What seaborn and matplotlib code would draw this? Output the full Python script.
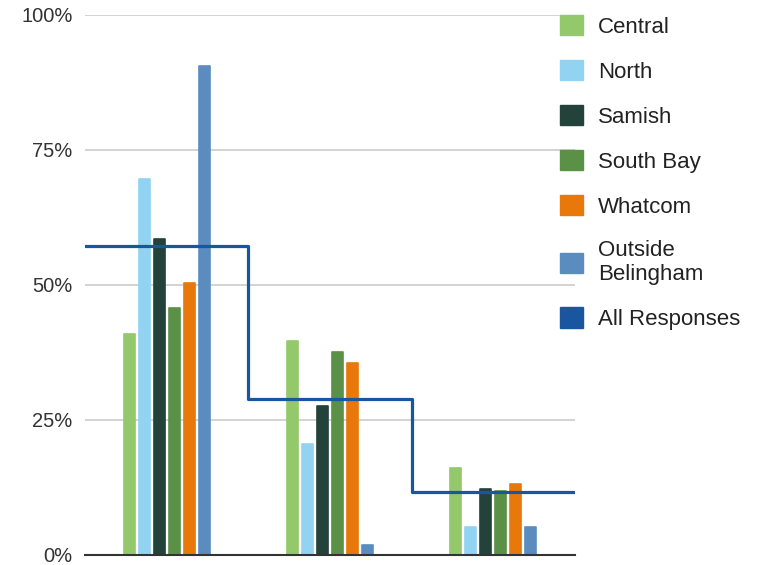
import pandas as pd
import matplotlib.pyplot as plt
import seaborn as sns
from matplotlib.patches import Patch

# data
groups = ['Group 1', 'Group 2', 'Group 3']
regions = ['Central', 'North', 'Samish', 'South Bay', 'Whatcom', 'Outside\nBelingham']
central = [40.9, 39.6, 16.2]
north = [69.6, 20.6, 5.2]
samish = [58.5, 27.6, 12.2]
south_bay = [45.8, 37.5, 11.9]
whatcom = [50.4, 35.6, 13.1]
outside = [90.6, 1.9, 5.2]
all_responses = [57.3, 28.8, 11.6]

colors = ['#93C96A', '#93D3F2', '#22423A', '#5A9146', '#E8780A', '#5B8CBF']
line_color = '#1A56A0'

rows = []
for region, vals in zip(regions, [central, north, samish, south_bay, whatcom, outside]):
    for g, v in zip(groups, vals):
        rows.append({'group': g, 'region': region, 'pct': v})
df = pd.DataFrame(rows)

sns.set_style('white')
plt.rcParams['font.family'] = ['Liberation Sans', 'DejaVu Sans']

fig = plt.figure(figsize=(7.59, 5.65), dpi=100)
ax = fig.add_axes([0.112, 0.0177, 0.6456, 0.9558])

sns.barplot(data=df, x='group', y='pct', hue='region', palette=colors,
            width=0.553, gap=0.27, ax=ax, legend=False, saturation=1)
for bar in ax.patches:
    bar.set_edgecolor(bar.get_facecolor())
    bar.set_linewidth(1.2)
    bar.set_joinstyle('round')

# step line for all responses
xs = [-0.5] + list(range(len(groups))) + [len(groups) - 0.5]
ys = [all_responses[0]] + all_responses + [all_responses[-1]]
ax.step(xs, ys, where='mid', color=line_color, lw=2.3,
        solid_joinstyle='round', zorder=5)

ax.set_xlim(-0.5, 2.5)
ax.set_ylim(0, 100)
ax.set_yticks([0, 25, 50, 75, 100])
ax.set_yticklabels(['0%', '25%', '50%', '75%', '100%'])
ax.set_xticks([])
ax.set_xlabel('')
ax.set_ylabel('')
ax.yaxis.grid(True, color='#CCCCCC', lw=1.2)
ax.set_axisbelow(True)
for s in ['top', 'right', 'left']:
    ax.spines[s].set_visible(False)
ax.spines['bottom'].set_color('#333333')
ax.spines['bottom'].set_linewidth(1.5)
ax.spines['bottom'].set_zorder(6)
ax.tick_params(axis='y', length=0, pad=9, labelsize=14.5, labelcolor='#333333')

handles = [Patch(facecolor=c, edgecolor=c) for c in colors]
handles.append(Patch(facecolor=line_color, edgecolor=line_color))
labels = regions + ['All Responses']
fig.legend(handles, labels, loc='upper left', bbox_to_anchor=(560 / 759, 1 - 15 / 565),
           frameon=False, fontsize=16, labelcolor='#222222',
           handlelength=1.03, handleheight=1.03, handletextpad=0.68,
           labelspacing=1.0, borderpad=0, borderaxespad=0)

fig.savefig('out.png', dpi=100)
